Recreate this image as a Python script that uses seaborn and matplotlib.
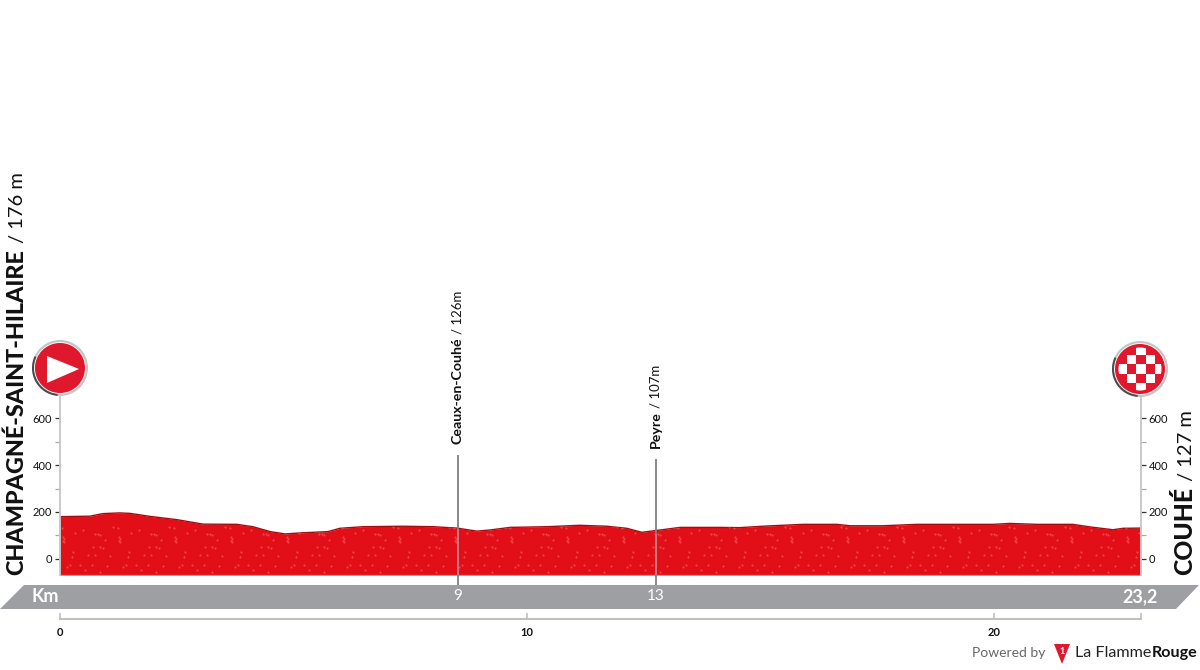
import matplotlib
matplotlib.use("Agg")
import matplotlib.pyplot as plt
from matplotlib.patches import Circle, Polygon, Rectangle, Wedge
import pandas as pd
import seaborn as sns

# ===================== Data =====================
km = [0, 0.64, 0.92, 1.28, 1.5, 1.93, 2.51, 3.06, 3.79, 4.13,
      4.5, 4.82, 5.2, 5.74, 5.99, 6.49, 7.34, 7.99, 8.5, 8.93,
      9.21, 9.64, 10.43, 11.13, 11.71, 12.14, 12.46, 12.78, 13.28, 14.13,
      14.56, 15.14, 15.91, 16.64, 16.92, 17.62, 18.35, 18.84, 19.98, 20.34,
      20.92, 21.69, 22.06, 22.55, 22.76, 23.13]
elevation = [180, 182, 193, 196, 194, 181, 167, 148, 147, 137,
             116, 106, 111, 116, 130, 137, 139, 137, 131, 118,
             123, 134, 137, 143, 139, 130, 113, 121, 134, 134,
             133, 140, 147, 147, 141, 141, 147, 147, 147, 151,
             147, 147, 136, 124, 130, 131]

waypoint_km = [8.52, 12.76]
waypoint_elev = [126, 107]
waypoint_top = [444, 427]
waypoint_names = ["Ceaux-en-Couhé", "Peyre"]
waypoint_alts = ["/ 126m", "/ 107m"]
waypoint_marks = ["9", "13"]

elev_major = [0, 200, 400, 600]
elev_minor = [100, 300, 500]
km_ticks = [0, 10, 20]

RED = "#e30f18"
DARK_RED = "#a20d12"
BAND = "#9d9fa2"
FONT = "Lato"

# speck pattern of the fill, one tile is 56 px wide
tile_dots = [(15, 38), (23, 35), (33, 52), (35, 60), (40, 52), (43, 53), (12, 62), (10, 70),
             (20, 70), (32, 70), (47, 71), (50, 61), (13, 57), (45, 45), (25, 75), (40, 77),
             (2, 33), (53, 32), (7, 72), (28, 60), (3, 42), (4, 44), (3, 46), (4, 47)]
tile_dashes = [(35, 39), (38, 39), (40, 40)]


def px_x(k):
    return 60 + k * 46.7


sns.set_style("white")
plt.rcParams['font.family'] = [FONT, 'DejaVu Sans']

fig = plt.figure(figsize=(12, 6.7), dpi=100)
renderer = fig.canvas.get_renderer()

# ===================== Profile axes =====================
ax = fig.add_axes([60 / 1200, (670 - 575) / 670, 1081 / 1200, 180 / 670], zorder=1)
ax.patch.set_alpha(0)
ax.set_xlim(0, 23.15)
ax.set_ylim(-69.7, 700.5)

# overlay in figure pixels for the furniture round the chart
px = fig.add_axes([0, 0, 1, 1], zorder=2)
px.set_xlim(0, 1200)
px.set_ylim(670, 0)
px.axis("off")
px.patch.set_alpha(0)

df = pd.DataFrame({"km": km, "elevation": elevation})
fill = ax.fill_between(df["km"], df["elevation"], -69.7, color=RED, lw=0)
sns.lineplot(data=df, x="km", y="elevation", ax=ax, color=DARK_RED, lw=1.0, errorbar=None)
ax.set_xlabel("")
ax.set_ylabel("")

# speckled texture, clipped to the profile
dot_x, dot_y, dash_x, dash_y = [], [], [], []
for i in range(20):
    x0 = 60 + i * 56
    for dx, dy in tile_dots:
        dot_x.append(x0 + dx)
        dot_y.append(495 + dy)
    for dx, dy in tile_dashes:
        dash_x.append(x0 + dx)
        dash_y.append(495 + dy)
clip_path = fill.get_paths()[0]
specks = ax.scatter(dot_x + dash_x, dot_y + dash_y, s=2.4, color="#f4434b", lw=0,
                    transform=px.transData, zorder=3)
specks.set_clip_path(clip_path, ax.transData)
ax.plot([0, 23.15], [-69, -69], color="#ec5a62", lw=1, zorder=4)

ax.set_xticks([])
ax.set_yticks(elev_major)
ax.set_yticks(elev_minor, minor=True)
ax.tick_params(axis="y", which="major", left=True, right=True, labelleft=True, labelright=True,
               length=3.6, width=0.9, color="#333333", labelsize=8, pad=2, labelcolor="#111111")
ax.tick_params(axis="y", which="minor", left=True, right=True, length=3.6, width=0.9, color="#aaaaaa")
for side in ["top", "bottom"]:
    ax.spines[side].set_visible(False)
for side in ["left", "right"]:
    ax.spines[side].set_color("#c6c6c6")
    ax.spines[side].set_linewidth(1.3)

# ===================== Km scale under the band =====================
ax_km = fig.add_axes([60 / 1200, (670 - 619) / 670, 1081 / 1200, 7 / 670], zorder=1)
ax_km.patch.set_alpha(0)
ax_km.set_xlim(0, 23.15)
ax_km.set_yticks([])
ax_km.set_xticks(km_ticks + [23.15], labels=[str(k) for k in km_ticks] + [""])
ax_km.tick_params(axis="x", bottom=True, direction="in", length=4.5, width=1.2, color="#c0c0c0",
                  labelsize=8, pad=6, labelcolor="#111111")
for label in ax_km.get_xticklabels():
    label.set_fontweight("bold")
for side in ["top", "left", "right"]:
    ax_km.spines[side].set_visible(False)
ax_km.spines["bottom"].set_color("#c0c0c0")
ax_km.spines["bottom"].set_linewidth(1.5)

# ===================== Grey band =====================
px.add_patch(Polygon([(24, 585), (1199, 585), (1176, 609), (0, 609)], color=BAND, lw=0))
px.text(45, 596.5, "Km", color="white", fontsize=13, fontweight="bold", ha="center", va="center")
px.text(1140, 596.5, "23,2", color="white", fontsize=13, fontweight="bold", ha="center", va="center")


def stacked(x, y, parts, gap):
    # rotated text made of heavy and regular runs, going upward from y
    for text, weight, size in parts:
        t = px.text(x, y, text, rotation=90, ha="left", va="baseline", rotation_mode="anchor",
                    fontsize=size, fontweight=weight, color="#111111")
        y -= t.get_window_extent(renderer).height + gap


stacked(23, 575, [("CHAMPAGNÉ-SAINT-HILAIRE", 900, 16.8), ("/ 176 m", "normal", 14.5)], 6)
stacked(1192, 575, [("COUHÉ", 900, 17.8), ("/ 127 m", "normal", 14.5)], 6)

# ===================== Waypoints =====================
for k, e, top, name, alt, mark in zip(waypoint_km, waypoint_elev, waypoint_top,
                                      waypoint_names, waypoint_alts, waypoint_marks):
    ax.vlines(k, e, top, color="#808080", lw=1.3, clip_on=False, zorder=5)
    ax.vlines(k, -69.7, e, color="#c4848c", lw=1.3, clip_on=False, zorder=5)
    ax.vlines(k, -113, -69.7, color="#808080", lw=1.3, clip_on=False, zorder=5)
    stacked(px_x(k) + 4, 444 if name.startswith("Ceaux") else 448,
            [(name, "bold", 10.2), (alt, "normal", 9.5)], 3)
    px.text(px_x(k), 596.5, mark, color="white", fontsize=11, ha="center", va="center")


# ===================== Start and finish badges =====================
def badge(cx, cy):
    px.add_patch(Circle((cx, cy), 28, color="#c4c4c4", lw=0))
    px.add_patch(Wedge((cx, cy), 28, 95, 205, color="#4a4a4a", lw=0))
    px.add_patch(Circle((cx, cy), 26, color="#f2f2f2", lw=0))
    px.add_patch(Circle((cx, cy), 25, color="#e0182d", lw=0))


badge(60, 368)
px.add_patch(Polygon([(47, 356), (79, 369), (47, 383)], color="white", lw=0))

badge(1140, 369)
inner = Circle((1140, 369), 21.5, transform=px.transData)
for i in range(-2, 3):
    for j in range(-2, 3):
        if (i + j) % 2 == 0 and i * i + j * j <= 5:
            cell = Rectangle((1141 + i * 9.5 - 4.75, 369 + j * 9.5 - 4.75), 9.5, 9.5, color="white", lw=0)
            px.add_patch(cell)
            cell.set_clip_path(inner)

# ===================== Logo =====================
px.text(972, 653, "Powered by", color="#666666", fontsize=10, va="center", ha="left")
px.add_patch(Polygon([(1054, 644), (1070, 644), (1062, 664)], color="#e0182d", lw=0))
px.text(1062, 651, "1", color="white", fontsize=6.5, fontweight="bold", ha="center", va="center")
t1 = px.text(1075, 653, "La Flamme", color="#222222", fontsize=11.6, va="center", ha="left")
end = t1.get_window_extent(renderer).x1
px.text(end, 653, "Rouge", color="#111111", fontsize=11.6, fontweight="bold", va="center", ha="left")

plt.savefig("out.png", dpi=100)
plt.close()
